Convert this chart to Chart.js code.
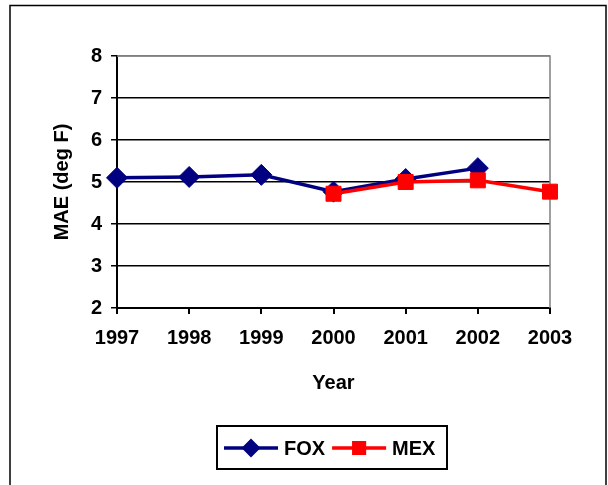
<!DOCTYPE html>
<html>
<head>
<meta charset="utf-8">
<script src="https://cdn.jsdelivr.net/npm/chart.js@4"></script>
<style>
  body { margin: 0; background: #fff; }
  #wrap { width: 608px; height: 485px; position: relative; }
</style>
</head>
<body>
<div id="wrap"><canvas id="maeChart"></canvas></div>
<script>
var years = ["1997", "1998", "1999", "2000", "2001", "2002", "2003"];
var foxMae = [5.10, 5.12, 5.17, 4.77, 5.07, 5.33, null];
var mexMae = [null, null, null, 4.72, 5.00, 5.04, 4.77];
var yTicks = [2, 3, 4, 5, 6, 7, 8];

var FONT = "'Liberation Sans', Arial, sans-serif";

// frame round the whole chart, grey border of the plot area and the boxed legend
var framePlugin = {
    id: "frame",
    beforeDatasetsDraw: function (chart) {
        var ctx = chart.ctx, a = chart.chartArea;
        ctx.save();
        ctx.strokeStyle = "#808080";
        ctx.lineWidth = 1.5;
        ctx.beginPath();
        ctx.moveTo(a.left, a.top);
        ctx.lineTo(a.right, a.top);
        ctx.lineTo(a.right, a.bottom);
        ctx.stroke();
        ctx.restore();
    },
    afterDraw: function (chart) {
        var ctx = chart.ctx;
        ctx.save();
        ctx.strokeStyle = "#000";
        ctx.lineWidth = 1.5;
        ctx.strokeRect(10, 5.5, 596, 520);

        // legend
        var boxX = 217, boxY = 426, boxW = 230, boxH = 43;
        ctx.fillStyle = "#fff";
        ctx.fillRect(boxX, boxY, boxW, boxH);
        ctx.lineWidth = 2;
        ctx.strokeRect(boxX, boxY, boxW, boxH);
        ctx.font = "bold 20px " + FONT;
        ctx.textBaseline = "middle";
        var x = boxX + 7, cy = boxY + boxH / 2 + 0.5;
        chart.data.datasets.forEach(function (ds) {
            ctx.strokeStyle = ds.borderColor;
            ctx.lineWidth = ds.borderWidth;
            ctx.beginPath();
            ctx.moveTo(x, cy);
            ctx.lineTo(x + 54, cy);
            ctx.stroke();
            ctx.fillStyle = ds.borderColor;
            Chart.helpers.drawPoint(ctx, {pointStyle: ds.pointStyle, radius: ds.legendRadius, borderWidth: 1}, x + 27, cy);
            ctx.fill();
            ctx.fillStyle = "#000";
            ctx.fillText(ds.label, x + 60, cy + 1);
            x += 60 + ctx.measureText(ds.label).width + 7;
        });
        ctx.restore();
    }
};

var ctx = document.getElementById("maeChart").getContext("2d");
var myChart = new Chart(ctx, {
    type: "line",
    data: {
        labels: years,
        datasets: [{
            label: "FOX",
            data: foxMae,
            borderColor: "#000080",
            backgroundColor: "#000080",
            borderWidth: 3.5,
            pointStyle: "rectRot",
            pointRadius: 10.5,
            legendRadius: 7,
            pointBorderWidth: 1,
            tension: 0,
            clip: false,
            order: 1
        }, {
            label: "MEX",
            data: mexMae,
            borderColor: "#ff0000",
            backgroundColor: "#ff0000",
            borderWidth: 3.5,
            pointStyle: "rect",
            pointRadius: 10.6,
            legendRadius: 7.5,
            pointBorderWidth: 1,
            tension: 0,
            clip: false,
            order: 0
        }]
    },
    options: {
        responsive: true,
        maintainAspectRatio: false,
        animation: false,
        layout: {padding: {left: 0, top: 56, right: 58, bottom: 87}},
        plugins: {legend: {display: false}, tooltip: {enabled: false}},
        scales: {
            x: {
                offset: false,
                afterFit: function (scale) { scale.height = 90; },
                grid: {drawOnChartArea: false, drawTicks: true, tickLength: 6, color: "#000", lineWidth: 2},
                border: {display: true, color: "#000", width: 2},
                ticks: {color: "#000", font: {family: FONT, size: 20, weight: "bold"}, padding: 12, maxRotation: 0, autoSkip: false},
                title: {display: true, text: "Year", color: "#000", font: {family: FONT, size: 20, weight: "bold"}, padding: {bottom: 3}}
            },
            y: {
                min: yTicks[0],
                max: yTicks[yTicks.length - 1],
                afterFit: function (scale) { scale.width = 117; },
                afterBuildTicks: function (scale) {
                    scale.ticks = yTicks.map(function (v) { return {value: v}; });
                },
                grid: {
                    color: function (c) { return c.tick && c.tick.value === 8 ? "#808080" : "#000"; },
                    tickColor: "#000",
                    lineWidth: 1.5,
                    tickLength: 6
                },
                border: {display: true, color: "#000", width: 2},
                ticks: {color: "#000", font: {family: FONT, size: 20, weight: "bold"}, padding: 9},
                title: {display: true, text: "MAE (deg F)", color: "#000", font: {family: FONT, size: 20, weight: "bold"}, padding: {top: 50}}
            }
        }
    },
    plugins: [framePlugin]
});
</script>
</body>
</html>
